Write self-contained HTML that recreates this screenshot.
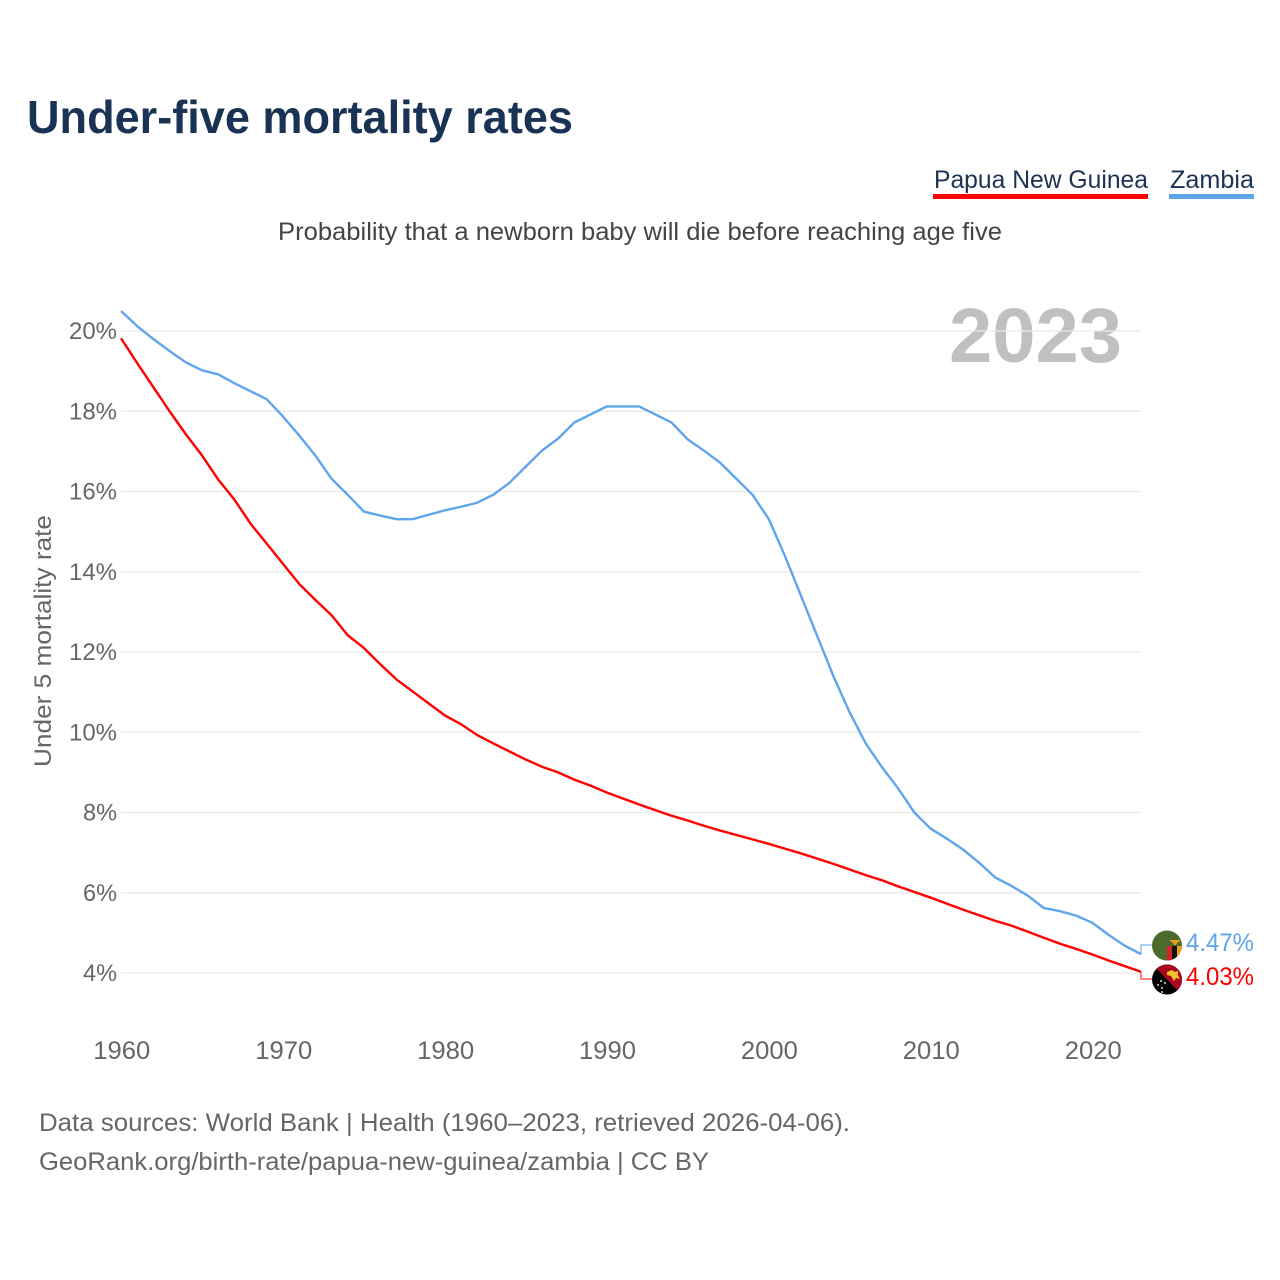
<!DOCTYPE html>
<html lang="en">
<head>
<meta charset="utf-8">
<title>Under-five mortality rates</title>
<style>
html,body{margin:0;padding:0;background:#fff;}
svg{display:block;font-family:"Liberation Sans",sans-serif;}
</style>
</head>
<body>
<svg id="chart" xmlns="http://www.w3.org/2000/svg" width="1280" height="1280" viewBox="0 0 1280 1280">
  <rect x="0" y="0" width="1280" height="1280" fill="#ffffff"/>
  <text x="27" y="133" font-size="46" font-weight="700" fill="#1a3355" textLength="546" lengthAdjust="spacingAndGlyphs">Under-five mortality rates</text>

  <g>
    <text x="934" y="188" font-size="25" fill="#1a3355" textLength="214" lengthAdjust="spacingAndGlyphs">Papua New Guinea</text>
    <rect x="933" y="194" width="215" height="5" fill="#ff0000"/>
  </g>
  <g>
    <text x="1170" y="188" font-size="25" fill="#1a3355" textLength="84" lengthAdjust="spacingAndGlyphs">Zambia</text>
    <rect x="1169" y="194" width="85" height="5" fill="#60a5ec"/>
  </g>

  <text x="278" y="240" font-size="25" fill="#444444" textLength="724" lengthAdjust="spacingAndGlyphs">Probability that a newborn baby will die before reaching age five</text>
  <text x="949" y="362" font-size="77" font-weight="700" fill="#c0c0c0" textLength="173" lengthAdjust="spacingAndGlyphs">2023</text>
  <text transform="translate(51 767) rotate(-90)" x="0" y="0" font-size="24.5" fill="#666666" textLength="252" lengthAdjust="spacingAndGlyphs">Under 5 mortality rate</text>

  <g id="grid"></g>
  <g id="yticks"></g>
  <g id="xticks"></g>
  <g id="series"></g>

  <defs>
    <clipPath id="clip-zm"><circle cx="1167" cy="945.5" r="15"/></clipPath>
    <clipPath id="clip-pg"><circle cx="1167" cy="979.5" r="15"/></clipPath>
  </defs>
  <g clip-path="url(#clip-zm)">
    <rect x="1152" y="930" width="30" height="31" fill="#4a6b2c"/>
    <rect x="1167" y="946" width="5" height="15" fill="#d8202a"/>
    <rect x="1172" y="946" width="5" height="15" fill="#111111"/>
    <rect x="1177" y="946" width="5" height="15" fill="#f39a1e"/>
    <path d="M1169 940 L1181 940 L1177 943 L1176 945 L1174 945 L1173 943 Z" fill="#f39a1e"/>
  </g>
  <g clip-path="url(#clip-pg)">
    <rect x="1152" y="964" width="30" height="31" fill="#000000"/>
    <path d="M1152 964 L1182 964 L1182 995 Z" fill="#a8071f"/>
    <path d="M1167 972 L1172 970 L1175 972 L1178 971 L1178 975 L1180 979 L1176 978 L1174 981 L1171 976 L1167 975 Z" fill="#f5c02c"/>
    <circle cx="1161" cy="981" r="1" fill="#ddd"/>
    <circle cx="1165" cy="983" r="1" fill="#ddd"/>
    <circle cx="1158" cy="985" r="1" fill="#ddd"/>
    <circle cx="1162" cy="988" r="1" fill="#ddd"/>
    <circle cx="1162" cy="992" r="1" fill="#ddd"/>
  </g>
  <text x="1186" y="951" font-size="25" fill="#60a5ec" textLength="68" lengthAdjust="spacingAndGlyphs">4.47%</text>
  <text x="1186" y="985" font-size="25" fill="#ff0000" textLength="68" lengthAdjust="spacingAndGlyphs">4.03%</text>

  <text x="39" y="1131" font-size="25" fill="#666666" textLength="811" lengthAdjust="spacingAndGlyphs">Data sources: World Bank | Health (1960–2023, retrieved 2026-04-06).</text>
  <text x="39" y="1170" font-size="25" fill="#666666" textLength="670" lengthAdjust="spacingAndGlyphs">GeoRank.org/birth-rate/papua-new-guinea/zambia | CC BY</text>
</svg>
<script>
const firstYear = 1960;
const zambiaValues = [20.5,20.12,19.8,19.5,19.22,19.02,18.92,18.7,18.5,18.3,17.87,17.4,16.9,16.32,15.92,15.5,15.4,15.31,15.31,15.42,15.53,15.62,15.72,15.92,16.22,16.62,17.02,17.32,17.72,17.92,18.12,18.12,18.12,17.92,17.72,17.3,17.02,16.72,16.32,15.92,15.32,14.4,13.4,12.4,11.4,10.5,9.72,9.13,8.6,8.0,7.6,7.35,7.08,6.75,6.38,6.17,5.93,5.62,5.54,5.43,5.25,4.95,4.68,4.47];
const papuaValues = [19.82,19.2,18.6,18.0,17.43,16.9,16.3,15.8,15.2,14.7,14.2,13.7,13.3,12.92,12.42,12.1,11.7,11.32,11.02,10.72,10.42,10.2,9.93,9.72,9.52,9.32,9.14,9.0,8.82,8.67,8.5,8.35,8.2,8.06,7.92,7.8,7.67,7.55,7.44,7.33,7.22,7.1,6.98,6.85,6.72,6.58,6.44,6.31,6.16,6.02,5.88,5.73,5.58,5.44,5.3,5.18,5.03,4.88,4.73,4.6,4.46,4.31,4.17,4.03];
const yTickValues = [4,6,8,10,12,14,16,18,20];
const xTickValues = [1960,1970,1980,1990,2000,2010,2020];

const NS = 'http://www.w3.org/2000/svg';
function xScale(year){ return 121 + (year - 1960) * (1020 / 63); }
function yScale(v){ return 973 - (v - 4) * (642 / 16); }

const gridGroup = document.getElementById('grid');
const yTickGroup = document.getElementById('yticks');
const xTickGroup = document.getElementById('xticks');
const seriesGroup = document.getElementById('series');

yTickValues.forEach(function(v){
  const line = document.createElementNS(NS,'line');
  
  
  line.setAttribute('x1', 121);
  line.setAttribute('x2', 1141);
  line.setAttribute('y1', yScale(v));
  line.setAttribute('y2', yScale(v));
  line.setAttribute('stroke', '#e9e9e9');
  line.setAttribute('stroke-width', '1.2');
  gridGroup.appendChild(line);

  const label = document.createElementNS(NS,'text');
  
  
  label.setAttribute('x', 117);
  label.setAttribute('y', yScale(v) + 8);
  label.setAttribute('text-anchor', 'end');
  label.setAttribute('font-size', '24');
  label.setAttribute('fill', '#666666');
  label.setAttribute('textLength', v >= 10 ? 48 : 34);
  label.setAttribute('lengthAdjust', 'spacingAndGlyphs');
  label.textContent = v + '%';
  yTickGroup.appendChild(label);
});

xTickValues.forEach(function(y){
  const label = document.createElementNS(NS,'text');
  
  
  label.setAttribute('x', xScale(y) + 0.8);
  label.setAttribute('y', 1059);
  label.setAttribute('text-anchor', 'middle');
  label.setAttribute('font-size', '25');
  label.setAttribute('fill', '#666666');
  label.setAttribute('textLength', 57);
  label.setAttribute('lengthAdjust', 'spacingAndGlyphs');
  label.textContent = y;
  xTickGroup.appendChild(label);
});

function linePoints(values){
  return values.map(function(v,i){
    return xScale(firstYear + i).toFixed(2) + ',' + yScale(v).toFixed(2);
  }).join(' ');
}

const zambiaLine = document.createElementNS(NS,'polyline');


zambiaLine.setAttribute('points', linePoints(zambiaValues));
zambiaLine.setAttribute('fill', 'none');
zambiaLine.setAttribute('stroke', '#60a5ec');
zambiaLine.setAttribute('stroke-width', '2.4');
zambiaLine.setAttribute('stroke-linejoin', 'round');
seriesGroup.appendChild(zambiaLine);

const papuaLine = document.createElementNS(NS,'polyline');


papuaLine.setAttribute('points', linePoints(papuaValues));
papuaLine.setAttribute('fill', 'none');
papuaLine.setAttribute('stroke', '#ff0000');
papuaLine.setAttribute('stroke-width', '2.4');
papuaLine.setAttribute('stroke-linejoin', 'round');
seriesGroup.appendChild(papuaLine);

const lastYearX = xScale(firstYear + zambiaValues.length - 1);

const zambiaConnector = document.createElementNS(NS,'polyline');


zambiaConnector.setAttribute('points', lastYearX + ',' + yScale(zambiaValues[zambiaValues.length-1]) + ' ' + lastYearX + ',945 1152,945');
zambiaConnector.setAttribute('fill', 'none');
zambiaConnector.setAttribute('stroke', '#60a5ec');
zambiaConnector.setAttribute('stroke-width', '1');
seriesGroup.appendChild(zambiaConnector);

const papuaConnector = document.createElementNS(NS,'polyline');


papuaConnector.setAttribute('points', lastYearX + ',' + yScale(papuaValues[papuaValues.length-1]) + ' ' + lastYearX + ',979 1152,979');
papuaConnector.setAttribute('fill', 'none');
papuaConnector.setAttribute('stroke', '#ff0000');
papuaConnector.setAttribute('stroke-width', '1');
seriesGroup.appendChild(papuaConnector);
</script>
</body>
</html>
